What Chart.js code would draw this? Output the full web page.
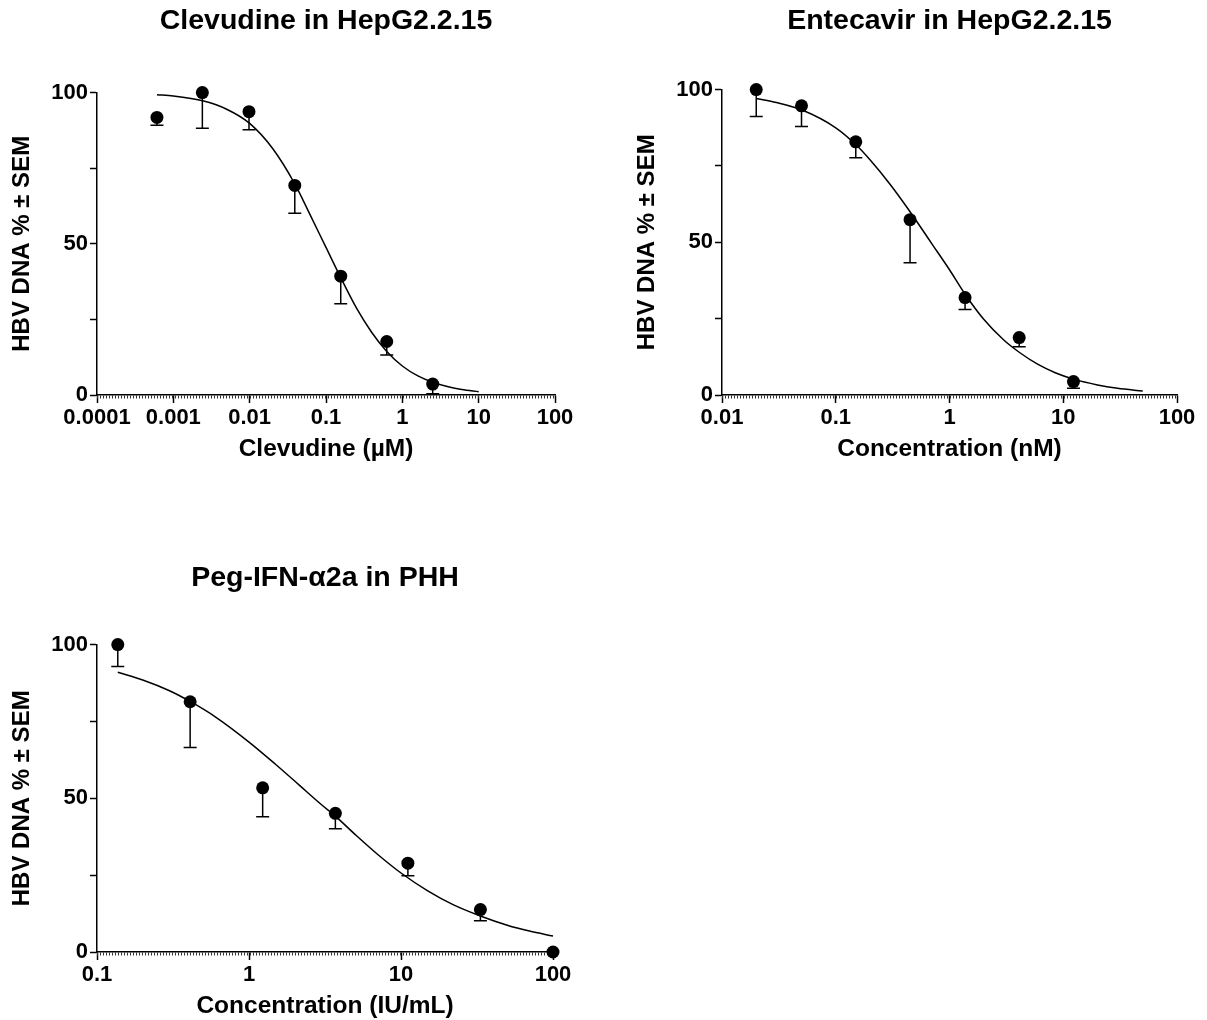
<!DOCTYPE html>
<html>
<head>
<meta charset="utf-8">
<script src="https://cdn.jsdelivr.net/npm/chart.js@4.4.1/dist/chart.umd.min.js"></script>
<style>
  html, body { margin: 0; padding: 0; background: #fff; overflow: hidden; width: 1207px; height: 1020px; }
  canvas { position: absolute; }
</style>
</head>
<body>
<canvas id="clevChart" width="600" height="480" style="left:0px;top:0px"></canvas>
<canvas id="entChart" width="582" height="480" style="left:625px;top:0px"></canvas>
<canvas id="pegChart" width="600" height="480" style="left:0px;top:557px"></canvas>
<script>
// Clevudine in HepG2.2.15 (uM)
const clevConc = [0.00061, 0.0024, 0.0098, 0.039, 0.156, 0.625, 2.5];
const clevMean = [91.8, 100, 93.7, 69.3, 39.3, 17.7, 3.6];
const clevSem = [2.6, 11.8, 6.0, 9.2, 9.1, 4.5, 3.2];
const clevFitX = [0.00061, 0.001, 0.0025, 0.005, 0.01, 0.02, 0.039, 0.06, 0.1, 0.156, 0.25, 0.4, 0.625, 1, 1.6, 2.5, 4, 6, 10];
const clevFitY = [99.3, 98.9, 97.2, 94.5, 89.8, 81.5, 69.8, 60.3, 48.8, 38.8, 28.8, 20.6, 14.4, 9.6, 6.3, 4.2, 2.7, 1.8, 1.1];
const clevTicks = [0.0001, 0.001, 0.01, 0.1, 1, 10, 100];

// Entecavir in HepG2.2.15 (nM)
const entConc = [0.02, 0.05, 0.15, 0.45, 1.37, 4.1, 12.3];
const entMean = [100, 94.7, 82.9, 57.4, 31.9, 18.8, 4.4];
const entSem = [8.8, 6.8, 5.2, 14.1, 3.9, 3.0, 2.2];
const entFitX = [0.02, 0.03, 0.05, 0.1, 0.15, 0.2, 0.3, 0.45, 0.7, 1, 1.37, 2, 3, 4.1, 6, 8.5, 12.3, 20, 30, 50];
const entFitY = [97.1, 95.8, 93.4, 87.5, 82, 77, 69, 60, 49.5, 41, 33, 24.8, 18, 14, 10, 7.3, 5.2, 3.3, 2.2, 1.3];
const entTicks = [0.01, 0.1, 1, 10, 100];

// Peg-IFN-a2a in PHH (IU/mL)
const pegConc = [0.137, 0.41, 1.23, 3.7, 11.1, 33.3, 100];
const pegMean = [100, 81.4, 53.4, 45.1, 28.9, 13.8, 0];
const pegSem = [7.1, 14.9, 9.4, 5.0, 4.1, 3.6, 0];
const pegFitX = [0.137, 0.2, 0.3, 0.41, 0.6, 1, 1.5, 2.15, 3, 3.7, 5, 7, 10, 15, 22, 33.3, 50, 70, 100];
const pegFitY = [91, 88.5, 85, 81.5, 76.5, 68.3, 61, 54.2, 47.9, 44.2, 38.2, 31.8, 25.7, 19.9, 15.4, 11.7, 8.7, 6.8, 5.2];
const pegTicks = [0.1, 1, 10, 100];

const yTicks = [0, 25, 50, 75, 100];
const yTitle = 'HBV DNA % \u00b1 SEM';

Chart.defaults.font.family = "'Liberation Sans', Arial, Helvetica, sans-serif";
Chart.defaults.color = '#000';

// error bars (down only, like the original) and the dotted zero line
function errorBarPlugin(conc, mean, sem) {
    return {
        id: 'errorBars',
        beforeDatasetsDraw(chart) {
            const { ctx, scales: { x, y } } = chart;
            ctx.save();
            // dotted line at Y = 0
            const y0 = y.getPixelForValue(0) + 2;
            ctx.strokeStyle = '#333';
            ctx.lineWidth = 3;
            ctx.setLineDash([1, 2]);
            ctx.beginPath();
            ctx.moveTo(chart.chartArea.left, y0);
            ctx.lineTo(chart.chartArea.right, y0);
            ctx.stroke();
            ctx.setLineDash([]);

            ctx.strokeStyle = '#000';
            ctx.lineWidth = 1.5;
            conc.forEach((c, i) => {
                if (!sem[i]) return;
                const px = x.getPixelForValue(c);
                const top = y.getPixelForValue(mean[i]);
                const bot = y.getPixelForValue(mean[i] - sem[i]);
                ctx.beginPath();
                ctx.moveTo(px, top);
                ctx.lineTo(px, bot);
                ctx.moveTo(px - 6.5, bot);
                ctx.lineTo(px + 6.5, bot);
                ctx.stroke();
            });
            ctx.restore();
        }
    };
}

function makeChart(id, c) {
    const ctx = document.getElementById(id).getContext('2d');
    return new Chart(ctx, {
        type: 'line',
        data: {
            datasets: [{
                data: c.conc.map((v, i) => ({ x: v, y: c.mean[i] })),
                showLine: false,
                pointRadius: 6.5,
                pointBackgroundColor: '#000',
                pointBorderColor: '#000',
                pointBorderWidth: 0,
                clip: false
            }, {
                data: c.fitX.map((v, i) => ({ x: v, y: c.fitY[i] })),
                borderColor: '#000',
                borderWidth: 1.5,
                pointRadius: 0,
                cubicInterpolationMode: 'monotone',
                fill: false,
                clip: false
            }]
        },
        options: {
            responsive: false,
            animation: false,
            layout: { padding: { left: 0, right: c.padRight, top: 0, bottom: 5 } },
            plugins: {
                legend: { display: false },
                tooltip: { enabled: false },
                title: {
                    display: true,
                    fullSize: false,
                    text: c.title,
                    color: '#000',
                    font: { size: 28.5, weight: 'bold', lineHeight: 1.2 },
                    padding: { top: 4, bottom: c.titlePad }
                }
            },
            scales: {
                x: {
                    type: 'logarithmic',
                    min: c.ticks[0],
                    max: c.ticks[c.ticks.length - 1],
                    afterBuildTicks: axis => { axis.ticks = c.ticks.map(v => ({ value: v })); },
                    afterFit: s => { s.height = 80; },
                    ticks: {
                        autoSkip: false,
                        maxRotation: 0,
                        padding: 2,
                        color: '#000',
                        font: { size: 22, weight: 'bold' },
                        callback: v => String(v)
                    },
                    grid: { drawOnChartArea: false, drawTicks: true, tickLength: 8, tickColor: '#000', tickWidth: 1.5 },
                    border: { display: true, color: '#000', width: 1.5 },
                    title: {
                        display: true,
                        text: c.xTitle,
                        color: '#000',
                        font: { size: 24.5, weight: 'bold', lineHeight: 1.2 },
                        padding: { top: 0, bottom: 11 }
                    }
                },
                y: {
                    min: 0,
                    max: 100,
                    afterBuildTicks: axis => { axis.ticks = yTicks.map(v => ({ value: v })); },
                    afterFit: s => { s.width = 97; },
                    ticks: {
                        padding: 2,
                        color: '#000',
                        font: { size: 22, weight: 'bold' },
                        callback: v => (v % 50 === 0 ? String(v) : '')
                    },
                    grid: { drawOnChartArea: false, drawTicks: true, tickLength: 7, tickColor: '#000', tickWidth: 1.5 },
                    border: { display: true, color: '#000', width: 1.5 },
                    title: {
                        display: true,
                        text: yTitle,
                        color: '#000',
                        font: { size: 24, weight: 'bold', lineHeight: 1.2 },
                        padding: { top: 8, bottom: 0 }
                    }
                }
            }
        },
        plugins: [errorBarPlugin(c.conc, c.mean, c.sem)]
    });
}

makeChart('clevChart', {
    title: 'Clevudine in HepG2.2.15', xTitle: 'Clevudine (\u00b5M)',
    conc: clevConc, mean: clevMean, sem: clevSem, fitX: clevFitX, fitY: clevFitY, ticks: clevTicks,
    padRight: 45, titlePad: 54.4
});
makeChart('entChart', {
    title: 'Entecavir in HepG2.2.15', xTitle: 'Concentration (nM)',
    conc: entConc, mean: entMean, sem: entSem, fitX: entFitX, fitY: entFitY, ticks: entTicks,
    padRight: 30, titlePad: 51.4
});
makeChart('pegChart', {
    title: 'Peg-IFN-\u03b12a in PHH', xTitle: 'Concentration (IU/mL)',
    conc: pegConc, mean: pegMean, sem: pegSem, fitX: pegFitX, fitY: pegFitY, ticks: pegTicks,
    padRight: 47, titlePad: 49.4
});
</script>
</body>
</html>
